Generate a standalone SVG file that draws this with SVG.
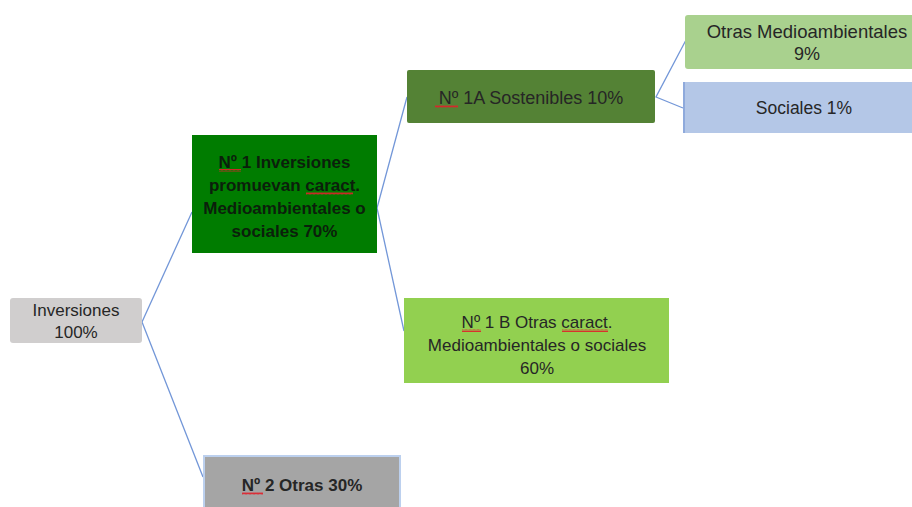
<svg xmlns="http://www.w3.org/2000/svg" width="912" height="507" viewBox="0 0 912 507">
<defs>
<pattern id="sq" width="4" height="3" patternUnits="userSpaceOnUse"><path d="M0,2.5 L1,0.5 L2,2.5 L3,0.5 L4,2.5" fill="none" stroke="#e0202a" stroke-width="0.9"/></pattern>
<style>
.t{font-family:"Liberation Sans",Arial,sans-serif;font-size:17px;fill:#262626;text-anchor:middle}
.b{font-weight:bold}
.dk{fill:#0b1f0b}
.c{fill:none;stroke:#7397d8;stroke-width:1.3}
.s{fill:url(#sq)}
</style>
</defs>
<rect width="912" height="507" fill="#ffffff"/>
<g id="connectors">
<polyline class="c" points="192,212 142,322 203,477"/>
<polyline class="c" points="407,97 377,208 404,331"/>
<polyline class="c" points="686,40 656,97 683,108"/>
</g>
<g id="inversiones">
<rect x="10" y="298" width="132" height="45" rx="3" fill="#d0cece"/>
<text class="t" x="76" y="316">Inversiones</text>
<text class="t" x="76" y="338">100%</text>
</g>
<g id="n1">
<rect x="192" y="135" width="185" height="118" fill="#007c00"/>
<text class="t b dk" x="284.5" y="168">Nº 1 Inversiones</text>
<text class="t b dk" x="284.5" y="191">promuevan caract.</text>
<text class="t b dk" x="284.5" y="214">Medioambientales o</text>
<text class="t b dk" x="284.5" y="237">sociales 70%</text>
<rect class="s" x="219" y="169" width="22" height="3"/>
<rect class="s" x="306" y="192" width="47" height="3"/>
</g>
<g id="n1a">
<rect x="407" y="70" width="248" height="53" rx="2" fill="#548235"/>
<text class="t" x="531" y="104" style="font-size:18px">Nº 1A Sostenibles 10%</text>
<rect class="s" x="435" y="105" width="23" height="3"/>
</g>
<g id="otras-medio">
<rect x="685" y="15" width="240" height="54" rx="3" fill="#a9d18e"/>
<text class="t" x="807" y="38" style="font-size:18.5px">Otras Medioambientales</text>
<text class="t" x="807" y="60" style="font-size:18px">9%</text>
</g>
<g id="sociales">
<rect x="683" y="82" width="240" height="51" rx="2" fill="#b4c7e7"/>
<rect x="683" y="82" width="2" height="51" fill="#8faadc"/>
<text class="t" x="804" y="114" style="font-size:17.5px">Sociales 1%</text>
</g>
<g id="n1b">
<rect x="404" y="298" width="265" height="85" fill="#92d050"/>
<text class="t" x="537" y="328">Nº 1 B Otras caract.</text>
<text class="t" x="537" y="351">Medioambientales o sociales</text>
<text class="t" x="537" y="374">60%</text>
<rect class="s" x="462" y="329" width="19" height="3"/>
<rect class="s" x="562" y="329" width="46" height="3"/>
</g>
<g id="n2">
<rect x="204" y="456" width="196" height="60" fill="#a5a5a5" stroke="#bcd0ee" stroke-width="2"/>
<text class="t b" x="302" y="491">Nº 2 Otras 30%</text>
<rect class="s" x="242" y="492" width="21" height="3"/>
</g>
</svg>
